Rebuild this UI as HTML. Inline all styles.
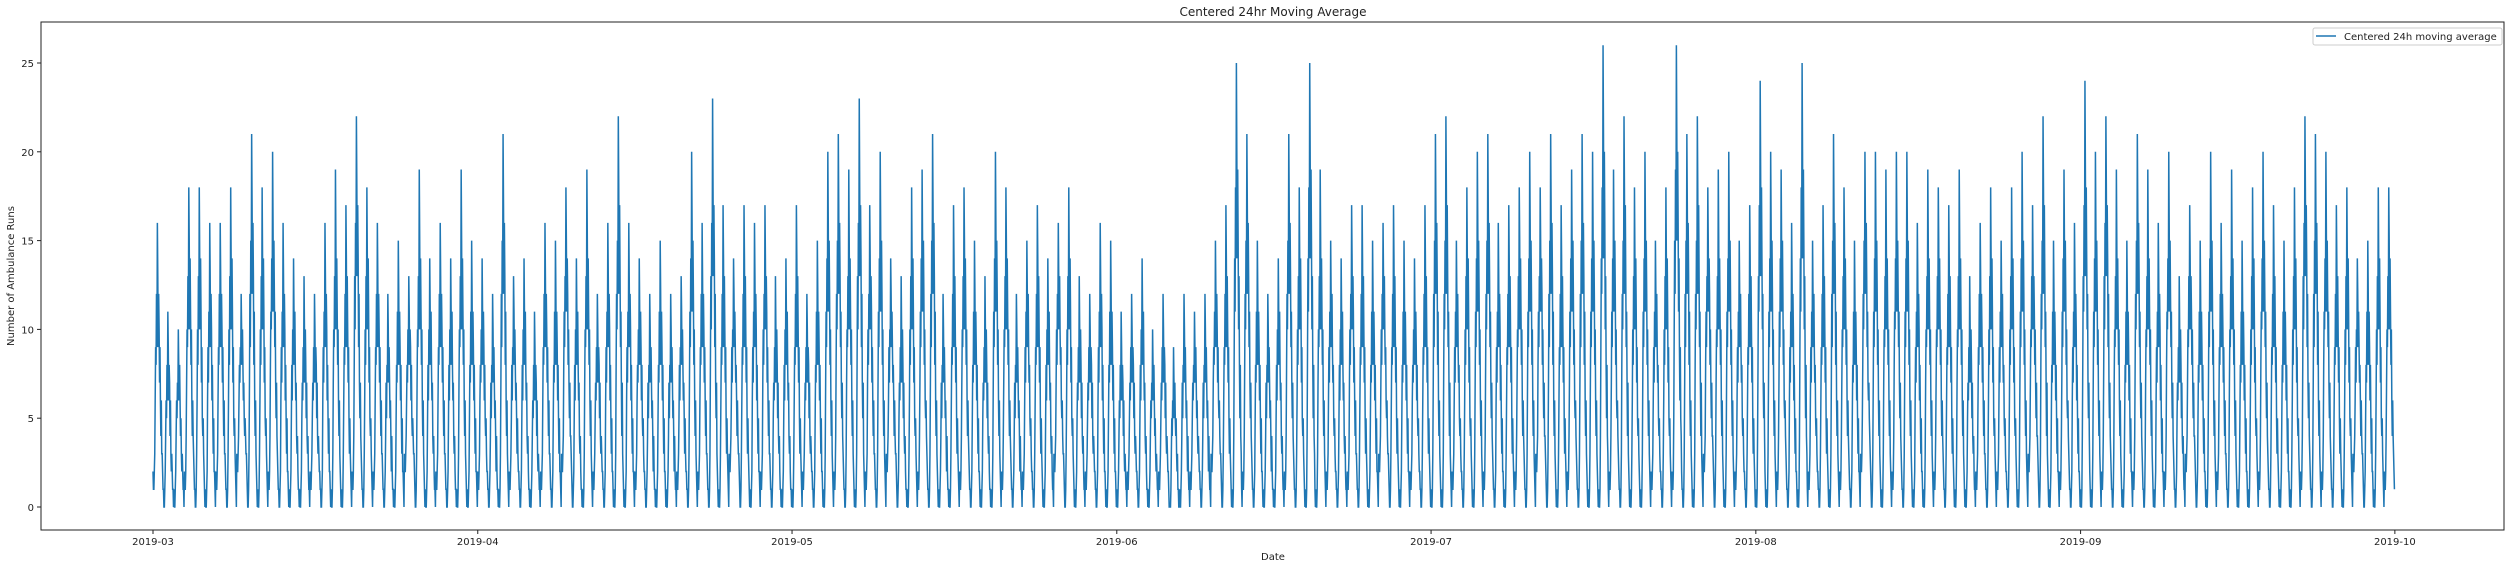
<!DOCTYPE html>
<html><head><meta charset="utf-8"><style>
body{margin:0;background:#fff;}
svg text{font-family:"DejaVu Sans","Liberation Sans",sans-serif;fill:#222;}
</style></head><body>
<svg id="chart" width="2512" height="568" xmlns="http://www.w3.org/2000/svg">
<rect x="0" y="0" width="2512" height="568" fill="#fff"/>
<text x="1273" y="16" font-size="12" text-anchor="middle">Centered 24hr Moving Average</text>
<g id="plot"></g>
<rect x="41" y="22" width="2463" height="508" fill="none" stroke="#222" stroke-width="1"/>
<g id="yticks"></g><g id="xticks"></g>
<text x="1273" y="560" font-size="10" text-anchor="middle">Date</text>
<text transform="translate(14,276) rotate(-90)" font-size="10" text-anchor="middle">Number of Ambulance Runs</text>
<g>
<rect x="2313" y="28" width="189" height="17" fill="#fff" stroke="#ccc" rx="2"/>
<line x1="2316" y1="36" x2="2336" y2="36" stroke="#1f77b4" stroke-width="1.5"/>
<text x="2344" y="40" font-size="10">Centered 24h moving average</text>
</g>
</svg>
<script>
const peaks=[16,11,10,18,18,16,16,18,12,21,18,20,16,14,13,12,16,19,17,22,18,16,12,15,13,19,14,16,14,19,15,
14,12,21,13,14,11,16,15,18,14,19,12,16,22,16,14,12,15,12,13,20,16,23,17,14,17,16,17,13,14,
17,12,15,20,21,19,23,17,20,14,13,18,19,21,12,17,18,15,13,20,18,12,15,17,14,16,18,13,12,16,15,
11,12,14,10,12,9,12,11,12,15,17,25,21,15,12,14,21,18,25,19,15,14,17,17,15,16,17,15,14,17,
21,22,15,18,20,21,16,17,18,20,18,21,17,19,21,20,26,19,22,18,20,15,18,26,21,22,18,19,20,15,17,
24,20,19,16,25,15,17,21,18,15,20,20,19,20,20,16,19,18,17,19,13,16,18,15,18,20,17,22,15,19,16,
24,20,22,19,15,21,19,16,20,13,17,15,20,16,19,15,18,20,17,15,18,22,21,20,17,18,14,15,18,18];
const lows=[1,0,0,1,0,0,1,0,2,0,0,1,0,0,0,1,0,0,0,1,0,1,0,0,2,0,0,1,0,0,0];
const dayShape=[0.05,0,0,0.05,0.15,0.35,0.55,0.45,0.7,0.55,1,0.8,0.55,0.75,0.6,0.4,0.5,0.3,0.2,0.3,0.15,0.1,0.05,0];
const yTicks=[0,5,10,15,20,25];
const xTickLabels=["2019-03","2019-04","2019-05","2019-06","2019-07","2019-08","2019-09","2019-10"];
const xTickDays=[0,31,61,92,122,153,184,214];
const NS="http://www.w3.org/2000/svg";
const xs=d=>153+d*10.476, ys=v=>507-v*17.76;
const yt=document.getElementById('yticks'), xt=document.getElementById('xticks');
yTicks.forEach(v=>{
 const l=document.createElementNS(NS,'line');
 l.setAttribute('x1',37);l.setAttribute('x2',41);l.setAttribute('y1',ys(v));l.setAttribute('y2',ys(v));l.setAttribute('stroke','#222');
 
 
 yt.appendChild(l);
 const t=document.createElementNS(NS,'text');
 t.setAttribute('x',34);t.setAttribute('y',ys(v)+4);t.setAttribute('font-size','10');t.setAttribute('text-anchor','end');t.textContent=v;
 
 
 yt.appendChild(t);
});
xTickLabels.forEach((s,i)=>{
 const x=xs(xTickDays[i]);
 const l=document.createElementNS(NS,'line');
 l.setAttribute('x1',x);l.setAttribute('x2',x);l.setAttribute('y1',530);l.setAttribute('y2',534);l.setAttribute('stroke','#222');
 
 
 xt.appendChild(l);
 const t=document.createElementNS(NS,'text');
 t.setAttribute('x',x);t.setAttribute('y',545);t.setAttribute('font-size','10');t.setAttribute('text-anchor','middle');t.textContent=s;
 
 
 xt.appendChild(t);
});
let pts=[];
peaks.forEach((p,d)=>{
 const lo=lows[d%lows.length];
 dayShape.forEach((f,h)=>{
  const v=Math.round(lo+(p-lo)*f);
  pts.push(xs(d+h/24).toFixed(2)+','+ys(v).toFixed(2));
 });
});
const pl=document.createElementNS(NS,'polyline');
pl.setAttribute('points',pts.join(' '));
pl.setAttribute('fill','none');pl.setAttribute('stroke','#1f77b4');pl.setAttribute('stroke-width','1.5');


document.getElementById('plot').appendChild(pl);
</script>
</body></html>
